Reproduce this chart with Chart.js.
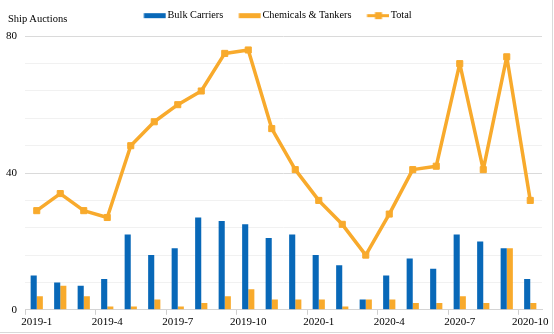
<!DOCTYPE html>
<html>
<head>
<meta charset="utf-8">
<script src="https://cdn.jsdelivr.net/npm/chart.js@4/dist/chart.umd.min.js"></script>
<style>
  html, body { margin: 0; padding: 0; background: #fff; }
  #wrap { position: relative; width: 554px; height: 334px; overflow: hidden; }
  #c { position: absolute; left: 0; top: 0; }
  #ytitle { position: absolute; left: 8px; top: 13px; font: 10.5px "Liberation Serif", "Times New Roman", serif; color: #000; line-height: 12px; white-space: nowrap; }
  #rb { position: absolute; left: 552px; top: 0; width: 1px; height: 334px; background: #d9d9d9; }
  #bb { position: absolute; left: 0; top: 332px; width: 554px; height: 1px; background: #d9d9d9; }
</style>
</head>
<body>
<div id="wrap">
  <canvas id="c" width="554" height="334"></canvas>
  <div id="ytitle">Ship Auctions</div>
  <div id="rb"></div>
  <div id="bb"></div>
</div>
<script>
const categories = ["2019-1","2019-2","2019-3","2019-4","2019-5","2019-6","2019-7","2019-8","2019-9","2019-10","2019-11","2019-12",
                    "2020-1","2020-2","2020-3","2020-4","2020-5","2020-6","2020-7","2020-8","2020-9","2020-10"];
const bulkCarriers = [10, 8, 7, 9, 22, 16, 18, 27, 26, 25, 21, 22, 16, 13, 3, 10, 15, 12, 22, 20, 18, 9];
const chemicalsTankers = [4, 7, 4, 1, 1, 3, 1, 2, 4, 6, 3, 3, 3, 1, 3, 3, 2, 2, 4, 2, 18, 2];
const total = [29, 34, 29, 27, 48, 55, 60, 64, 75, 76, 53, 41, 32, 25, 16, 28, 41, 42, 72, 41, 74, 32];
const yTickLabels = [0, 40, 80];

const BLUE = '#0868B8';
const ORANGE = '#F8AA2C';
const FONT = '"Liberation Serif", "Times New Roman", serif';

function legendIcon(kind, color) {
  const c = document.createElement('canvas');
  c.width = 32; c.height = 10;
  const g = c.getContext('2d');
  const x0 = 9.5;
  if (kind === 'box') {
    g.fillStyle = color;
    g.fillRect(x0, 3, 22, 5);
  } else {
    g.fillStyle = color;
    g.fillRect(x0, 4, 23, 3);
    g.fillRect(x0 + 8, 2, 7, 7);
  }
  return c;
}
const icons = [legendIcon('box', BLUE), legendIcon('box', ORANGE), legendIcon('line', ORANGE)];

const shiftLegend = {
  id: 'shiftLegend',
  afterLayout(chart) {
    if (chart.legend) { chart.legend.left += 4; chart.legend.right += 4; }
  }
};

new Chart(document.getElementById('c'), {
  plugins: [shiftLegend],
  data: {
    labels: categories,
    datasets: [
      { type: 'bar', label: 'Bulk Carriers', data: bulkCarriers, backgroundColor: BLUE, order: 2,
        categoryPercentage: 0.52, barPercentage: 1.0 },
      { type: 'bar', label: 'Chemicals & Tankers', data: chemicalsTankers, backgroundColor: ORANGE, order: 2,
        categoryPercentage: 0.52, barPercentage: 1.0 },
      { type: 'line', label: 'Total', data: total, borderColor: ORANGE, backgroundColor: ORANGE,
        borderWidth: 3.5, borderJoinStyle: 'bevel', pointStyle: 'rect', pointRadius: 4.3, pointBorderWidth: 1,
        pointBackgroundColor: ORANGE, pointBorderColor: ORANGE, tension: 0, fill: false, order: 0 }
    ]
  },
  options: {
    responsive: false,
    animation: false,
    layout: { padding: { top: 0, right: 12, bottom: 4, left: 0 } },
    plugins: {
      title: { display: true, text: '', weight: 500, padding: 0, font: { size: 6, lineHeight: 1 } },
      tooltip: { enabled: false },
      legend: {
        position: 'top',
        align: 'center',
        weight: 1000,
        labels: {
          usePointStyle: true,
          pointStyleWidth: 24,
          boxHeight: 10,
          padding: 10,
          color: '#000',
          font: { family: FONT, size: 10.3 },
          generateLabels: (chart) => chart.data.datasets.map((ds, i) => ({
            text: ds.label,
            pointStyle: icons[i],
            fillStyle: 'transparent',
            strokeStyle: 'transparent',
            lineWidth: 0,
            hidden: false,
            datasetIndex: i
          }))
        }
      }
    },
    scales: {
      x: {
        offset: true,
        grid: {
          offset: true,
          drawOnChartArea: false,
          drawTicks: true,
          tickLength: 5,
          color: (ctx) => (ctx.index % 3 === 0 ? '#cfcfcf' : 'rgba(0,0,0,0)')
        },
        border: { display: true, color: '#d4d4d4' },
        ticks: {
          autoSkip: false,
          maxRotation: 0,
          padding: 1,
          color: '#000',
          font: { family: FONT, size: 11 },
          callback: function (v, i) { return i % 3 === 0 ? categories[i] : ''; }
        }
      },
      y: {
        min: 0, max: 80,
        afterFit: (s) => { s.width = 25; },
        grid: {
          drawTicks: false,
          color: (ctx) => (yTickLabels.includes(ctx.tick.value) ? '#dadada' : '#f1f1f1')
        },
        border: { display: false },
        ticks: {
          stepSize: 8,
          padding: 8,
          color: '#000',
          font: { family: FONT, size: 11 },
          callback: (v) => (yTickLabels.includes(v) ? String(v) : '')
        }
      }
    }
  }
});
</script>
</body>
</html>
